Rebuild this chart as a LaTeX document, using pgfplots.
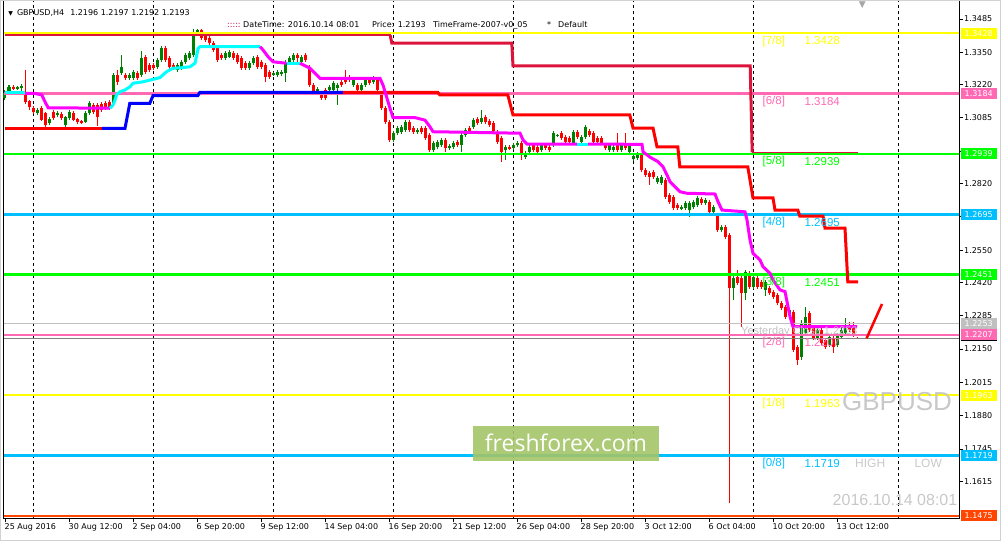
\documentclass[border=0pt]{standalone}
\usepackage{pgfplots}
\pgfplotsset{compat=1.18}
\usepackage{pgfplotstable}
\usepackage{fontspec}
\setmainfont{DejaVu Sans}
\newfontfamily\arial{Liberation Sans}
\newfontfamily\osans{Open Sans}

\definecolor{cgreen}{RGB}{0,128,0}
\definecolor{cred}{RGB}{255,0,0}
\definecolor{mmyellow}{RGB}{255,255,0}
\definecolor{mmpink}{RGB}{255,105,180}
\definecolor{mmlime}{RGB}{0,255,0}
\definecolor{mmblue}{RGB}{0,191,255}
\definecolor{mmorange}{RGB}{255,69,0}
\definecolor{crimsonc}{RGB}{220,20,60}
\definecolor{magentac}{RGB}{255,0,255}
\definecolor{aquac}{RGB}{0,255,255}
\definecolor{bluec}{RGB}{0,0,255}
\definecolor{silverc}{RGB}{192,192,192}
\definecolor{txtgray}{RGB}{200,200,200}
\definecolor{wm}{RGB}{164,196,104}

% H4 bars, i = bar number, o h l c
\pgfplotstableread{
i o h l c
0 1.3165 1.3198 1.3157 1.3186
1 1.3190 1.3218 1.3182 1.3210
3 1.3202 1.3214 1.3198 1.3210
4 1.3206 1.3222 1.3190 1.3214
8 1.3105 1.3125 1.3097 1.3117
11 1.3064 1.3089 1.3056 1.3080
13 1.3097 1.3113 1.3089 1.3105
15 1.3056 1.3093 1.3048 1.3089
16 1.3084 1.3117 1.3076 1.3109
20 1.3068 1.3113 1.3064 1.3105
21 1.3105 1.3153 1.3097 1.3145
27 1.3145 1.3267 1.3137 1.3258
29 1.3267 1.3339 1.3258 1.3291
31 1.3246 1.3267 1.3238 1.3258
32 1.3246 1.3279 1.3238 1.3271
34 1.3258 1.3356 1.3250 1.3327
38 1.3291 1.3327 1.3283 1.3319
39 1.3319 1.3376 1.3311 1.3368
43 1.3279 1.3307 1.3271 1.3299
44 1.3287 1.3319 1.3279 1.3311
45 1.3311 1.3347 1.3303 1.3339
46 1.3327 1.3356 1.3319 1.3347
47 1.3339 1.3445 1.3331 1.3432
48 1.3432 1.3445 1.3424 1.3441
55 1.3327 1.3356 1.3319 1.3347
56 1.3331 1.3360 1.3327 1.3352
61 1.3287 1.3315 1.3279 1.3307
62 1.3307 1.3335 1.3299 1.3327
67 1.3258 1.3271 1.3254 1.3267
68 1.3258 1.3279 1.3250 1.3271
69 1.3262 1.3279 1.3254 1.3271
70 1.3267 1.3319 1.3230 1.3307
71 1.3307 1.3335 1.3299 1.3327
72 1.3319 1.3347 1.3311 1.3339
74 1.3311 1.3339 1.3303 1.3331
78 1.3190 1.3210 1.3178 1.3202
81 1.3198 1.3218 1.3190 1.3210
82 1.3198 1.3234 1.3190 1.3226
83 1.3206 1.3226 1.3137 1.3218
87 1.3218 1.3246 1.3210 1.3238
89 1.3198 1.3226 1.3190 1.3218
90 1.3218 1.3246 1.3210 1.3238
92 1.3230 1.3254 1.3222 1.3246
97 1.2995 1.3032 1.2987 1.3024
98 1.3024 1.3052 1.3016 1.3044
99 1.3028 1.3056 1.3020 1.3048
100 1.3036 1.3076 1.3028 1.3068
103 1.3028 1.3044 1.3020 1.3036
107 1.2955 1.2991 1.2947 1.2983
108 1.2967 1.2995 1.2959 1.2987
109 1.2975 1.3004 1.2967 1.2995
111 1.2963 1.2979 1.2955 1.2971
112 1.2967 1.2991 1.2959 1.2983
114 1.2975 1.3024 1.2947 1.3016
115 1.3016 1.3044 1.3008 1.3036
117 1.3048 1.3084 1.3040 1.3076
119 1.3068 1.3117 1.3060 1.3084
125 1.2955 1.2975 1.2915 1.2967
127 1.2963 1.2983 1.2955 1.2975
128 1.2975 1.2991 1.2967 1.2983
130 1.2927 1.2951 1.2919 1.2943
131 1.2947 1.2975 1.2939 1.2967
134 1.2955 1.2983 1.2947 1.2975
137 1.2975 1.3032 1.2967 1.3024
138 1.3012 1.3020 1.3008 1.3016
142 1.2983 1.3036 1.2975 1.3028
144 1.2987 1.3016 1.2979 1.3008
145 1.3008 1.3056 1.2999 1.3048
151 1.2955 1.2983 1.2947 1.2975
152 1.2955 1.2975 1.2947 1.2967
154 1.2955 1.2983 1.2947 1.2975
156 1.2947 1.2983 1.2939 1.2975
157 1.2919 1.2939 1.2911 1.2931
158 1.2923 1.2947 1.2915 1.2939
163 1.2826 1.2850 1.2817 1.2842
164 1.2821 1.2854 1.2813 1.2846
169 1.2720 1.2732 1.2712 1.2724
170 1.2720 1.2749 1.2712 1.2741
171 1.2712 1.2749 1.2684 1.2741
172 1.2724 1.2753 1.2716 1.2745
173 1.2732 1.2769 1.2724 1.2761
175 1.2741 1.2761 1.2732 1.2753
177 1.2704 1.2732 1.2696 1.2724
179 1.2631 1.2652 1.2623 1.2643
182 1.2397 1.2457 1.2348 1.2437
185 1.2376 1.2470 1.2348 1.2461
187 1.2401 1.2449 1.2393 1.2441
190 1.2389 1.2429 1.2364 1.2421
196 1.2287 1.2316 1.2279 1.2308
199 1.2117 1.2267 1.2105 1.2255
200 1.2215 1.2320 1.2207 1.2279
203 1.2194 1.2235 1.2186 1.2227
206 1.2166 1.2207 1.2158 1.2198
208 1.2166 1.2215 1.2158 1.2207
209 1.2198 1.2235 1.2190 1.2227
210 1.2215 1.2275 1.2207 1.2235
}\upbars

\pgfplotstableread{
i o h l c
2 1.3210 1.3218 1.3198 1.3202
5 1.3186 1.3279 1.3141 1.3149
6 1.3153 1.3157 1.3117 1.3129
7 1.3125 1.3133 1.3101 1.3109
9 1.3125 1.3133 1.3072 1.3076
10 1.3105 1.3109 1.3048 1.3056
12 1.3109 1.3117 1.3076 1.3084
14 1.3101 1.3109 1.3076 1.3084
17 1.3105 1.3113 1.3072 1.3076
18 1.3080 1.3084 1.3060 1.3068
19 1.3072 1.3076 1.3060 1.3064
22 1.3137 1.3145 1.3101 1.3109
23 1.3137 1.3145 1.3052 1.3089
24 1.3141 1.3149 1.3109 1.3117
25 1.3145 1.3153 1.3117 1.3125
26 1.3149 1.3157 1.3117 1.3125
28 1.3258 1.3279 1.3218 1.3230
30 1.3258 1.3267 1.3238 1.3246
33 1.3267 1.3275 1.3238 1.3246
35 1.3331 1.3339 1.3262 1.3271
36 1.3299 1.3307 1.3271 1.3279
37 1.3299 1.3307 1.3279 1.3287
40 1.3368 1.3376 1.3311 1.3319
41 1.3327 1.3335 1.3283 1.3291
42 1.3299 1.3307 1.3279 1.3287
49 1.3441 1.3445 1.3400 1.3408
50 1.3420 1.3428 1.3392 1.3400
51 1.3408 1.3416 1.3380 1.3388
52 1.3388 1.3396 1.3352 1.3360
53 1.3368 1.3376 1.3311 1.3319
54 1.3339 1.3347 1.3319 1.3327
57 1.3347 1.3356 1.3319 1.3327
58 1.3339 1.3347 1.3303 1.3311
59 1.3327 1.3335 1.3279 1.3287
60 1.3307 1.3315 1.3279 1.3287
63 1.3331 1.3339 1.3283 1.3291
64 1.3311 1.3319 1.3283 1.3291
65 1.3299 1.3307 1.3230 1.3250
66 1.3271 1.3279 1.3242 1.3250
73 1.3339 1.3347 1.3311 1.3327
75 1.3339 1.3347 1.3311 1.3319
76 1.3291 1.3299 1.3210 1.3218
77 1.3218 1.3226 1.3182 1.3190
79 1.3186 1.3194 1.3157 1.3165
80 1.3198 1.3206 1.3157 1.3165
84 1.3230 1.3246 1.3210 1.3218
85 1.3250 1.3279 1.3222 1.3230
86 1.3250 1.3258 1.3230 1.3238
88 1.3218 1.3226 1.3190 1.3198
91 1.3238 1.3246 1.3218 1.3226
93 1.3238 1.3246 1.3190 1.3198
94 1.3186 1.3194 1.3117 1.3125
95 1.3125 1.3133 1.3060 1.3068
96 1.3068 1.3076 1.2987 1.2995
101 1.3068 1.3076 1.3028 1.3036
102 1.3044 1.3052 1.3020 1.3028
104 1.3044 1.3052 1.3020 1.3028
105 1.3044 1.3052 1.2995 1.3004
106 1.3016 1.3024 1.2947 1.2955
110 1.2995 1.3004 1.2947 1.2963
113 1.2987 1.2995 1.2967 1.2975
116 1.3044 1.3052 1.3020 1.3028
118 1.3080 1.3089 1.3056 1.3064
120 1.3089 1.3097 1.3060 1.3068
121 1.3072 1.3080 1.3048 1.3056
122 1.3064 1.3072 1.3024 1.3032
123 1.3028 1.3036 1.2979 1.2987
124 1.3004 1.3012 1.2906 1.2947
126 1.2967 1.2975 1.2955 1.2963
129 1.2983 1.2991 1.2915 1.2935
132 1.2975 1.2983 1.2947 1.2955
133 1.2967 1.2975 1.2939 1.2947
135 1.2975 1.2983 1.2955 1.2963
136 1.2967 1.2975 1.2947 1.2955
139 1.3024 1.3032 1.2995 1.3004
140 1.3008 1.3016 1.2979 1.2987
141 1.3004 1.3012 1.2979 1.2987
143 1.3028 1.3036 1.2999 1.3008
146 1.3032 1.3040 1.3008 1.3016
147 1.3024 1.3032 1.2979 1.2987
148 1.3004 1.3012 1.2979 1.2987
149 1.3004 1.3012 1.2975 1.2983
150 1.2975 1.2983 1.2955 1.2963
153 1.2975 1.3024 1.2947 1.2955
155 1.2983 1.3024 1.2955 1.2963
159 1.2935 1.2943 1.2866 1.2874
160 1.2874 1.2882 1.2846 1.2854
161 1.2862 1.2870 1.2813 1.2846
162 1.2866 1.2874 1.2838 1.2846
165 1.2834 1.2842 1.2757 1.2765
166 1.2773 1.2781 1.2737 1.2745
167 1.2765 1.2773 1.2712 1.2720
168 1.2732 1.2741 1.2712 1.2720
174 1.2757 1.2765 1.2732 1.2741
176 1.2745 1.2753 1.2696 1.2704
178 1.2692 1.2700 1.2623 1.2631
180 1.2643 1.2652 1.2595 1.2603
181 1.2611 1.2619 1.1527 1.2397
183 1.2441 1.2470 1.2409 1.2417
184 1.2437 1.2445 1.2239 1.2376
186 1.2457 1.2465 1.2393 1.2401
188 1.2437 1.2445 1.2393 1.2401
189 1.2421 1.2429 1.2393 1.2401
191 1.2397 1.2405 1.2368 1.2376
192 1.2380 1.2389 1.2352 1.2360
193 1.2368 1.2376 1.2328 1.2336
194 1.2336 1.2344 1.2308 1.2316
195 1.2320 1.2328 1.2271 1.2279
197 1.2300 1.2308 1.2138 1.2146
198 1.2158 1.2166 1.2085 1.2105
201 1.2295 1.2304 1.2219 1.2227
202 1.2235 1.2243 1.2186 1.2194
204 1.2227 1.2235 1.2166 1.2174
205 1.2186 1.2194 1.2150 1.2158
207 1.2194 1.2202 1.2134 1.2158
211 1.2239 1.2259 1.2219 1.2227
212 1.2239 1.2259 1.2198 1.2207
213 1.2196 1.2197 1.2192 1.2193
}\downbars

\tikzset{
  lvl/.style={fill=#1, text=white, font=\fontsize{8}{9}\selectfont, minimum width=36pt,
    minimum height=11pt, inner sep=0pt, anchor=west, xshift=1.5pt},
  mm/.style={text=#1, font=\arial\fontsize{11.5}{12}\selectfont, inner sep=0pt},
  hdr/.style={anchor=west, inner sep=0pt, font=\fontsize{8}{9}\selectfont}
}

\begin{document}
\begin{tikzpicture}
\begin{axis}[
    name=ax,
    scale only axis,
    width=955pt, height=517pt,
    xmin=-0.25, xmax=238.5,
    ymin=1.1466, ymax=1.3558,
    clip=false,
    axis line style={black, line width=1pt},
    xtick={0,16,32,48,64,80,96,112,128,144,160,176,192,208},
    xticklabels={25 Aug 2016, 30 Aug 12:00, 2 Sep 04:00, 6 Sep 20:00, 9 Sep 12:00,
      14 Sep 04:00, 16 Sep 20:00, 21 Sep 12:00, 26 Sep 04:00, 28 Sep 20:00,
      3 Oct 12:00, 6 Oct 04:00, 10 Oct 20:00, 13 Oct 12:00},
    ytick={1.3485,1.3350,1.3220,1.3085,1.2950,1.2820,1.2685,1.2550,1.2420,1.2285,1.2150,1.2015,1.1880,1.1745,1.1615},
    yticklabels={1.3485,1.3350,1.3220,1.3085,,1.2820,,1.2550,1.2420,1.2285,1.2150,1.2015,1.1880,1.1745,1.1615},
    xtick pos=bottom, ytick pos=right, yticklabel pos=right,
    tick align=outside, major tick length=4pt,
    tick style={black, line width=0.8pt},
    ticklabel style={font=\fontsize{8}{9}\selectfont, text=black},
    xticklabel style={anchor=north west, xshift=-1.5pt, inner sep=1pt},
    yticklabel style={anchor=west, inner sep=1pt},
    extra x ticks={7,37,67,97,127,157,187,223.25},
    extra x tick labels={},
    extra x tick style={grid=major, tick style={draw=none}},
    major grid style={black, line width=0.8pt, dash pattern=on 3pt off 3pt},
]

% candles: wicks, then bodies
\addplot[draw=none, mark=none, forget plot,
  error bars/.cd, y dir=both, y explicit, error mark=none,
  error bar style={draw=cgreen, line width=1pt}]
  table[x=i, y expr={(\thisrow{h}+\thisrow{l})/2}, y error expr={(\thisrow{h}-\thisrow{l})/2}] {\upbars};
\addplot[draw=none, mark=none, forget plot,
  error bars/.cd, y dir=both, y explicit, error mark=none,
  error bar style={draw=cgreen, line width=3pt}]
  table[x=i, y expr={(\thisrow{o}+\thisrow{c})/2}, y error expr={(\thisrow{c}-\thisrow{o})/2}] {\upbars};
\addplot[draw=none, mark=none, forget plot,
  error bars/.cd, y dir=both, y explicit, error mark=none,
  error bar style={draw=cred, line width=1pt}]
  table[x=i, y expr={(\thisrow{h}+\thisrow{l})/2}, y error expr={(\thisrow{h}-\thisrow{l})/2}] {\downbars};
\addplot[draw=none, mark=none, forget plot,
  error bars/.cd, y dir=both, y explicit, error mark=none,
  error bar style={draw=cred, line width=3pt}]
  table[x=i, y expr={(\thisrow{o}+\thisrow{c})/2}, y error expr={(\thisrow{o}-\thisrow{c})/2}] {\downbars};

% murrey math levels
\addplot[mmyellow, line width=2.5pt] coordinates {(-0.25,1.3428) (238.5,1.3428)};
\addplot[mmpink, line width=2.5pt] coordinates {(-0.25,1.3184) (238.5,1.3184)};
\addplot[mmlime, line width=2.5pt] coordinates {(-0.25,1.2939) (238.5,1.2939)};
\addplot[mmblue, line width=2.5pt] coordinates {(-0.25,1.2695) (238.5,1.2695)};
\addplot[mmlime, line width=2.5pt] coordinates {(-0.25,1.2451) (238.5,1.2451)};
\addplot[silverc, line width=1.2pt] coordinates {(-0.25,1.2253) (238.5,1.2253)};
\addplot[mmpink, line width=2.5pt] coordinates {(-0.25,1.2207) (238.5,1.2207)};
\addplot[gray, line width=1.2pt] coordinates {(-0.25,1.2193) (238.5,1.2193)};
\addplot[mmyellow, line width=2.5pt] coordinates {(-0.25,1.1963) (238.5,1.1963)};
\addplot[mmblue, line width=2.5pt] coordinates {(-0.25,1.1719) (238.5,1.1719)};
\addplot[mmorange, line width=2.5pt] coordinates {(-0.25,1.1475) (238.5,1.1475)};

% upper trailing line
\addplot[crimsonc, line width=1.8pt] coordinates {(0,1.3419) (96.5,1.3419)};
\addplot[crimsonc, line width=3pt] coordinates {(96.3,1.3419) (96.7,1.3388) (126.7,1.3388) (127,1.3295) (186.3,1.3295) (186.8,1.2946)};
\addplot[crimsonc, line width=1.3pt] coordinates {(186.8,1.2946) (213.3,1.2946)};

% lower trailing line
\addplot[cred, line width=3pt] coordinates {(0,1.3043) (24.2,1.3043)};
\addplot[bluec, line width=3pt] coordinates {(24.2,1.3043) (30,1.3043) (31.2,1.3144) (36.2,1.3144) (37,1.3175) (48.2,1.3175) (48.7,1.3188) (84.5,1.3188)};
\addplot[cred, line width=3pt] coordinates {(84.5,1.3188) (108.2,1.3188) (108.7,1.3178) (125.7,1.3178) (127,1.3097) (156.2,1.3097) (157,1.3044) (162,1.3044) (163,1.2968) (168.2,1.2968) (168.7,1.2887) (185.7,1.2887) (187,1.2761) (192,1.2761) (192.5,1.2712) (198.2,1.2712) (198.7,1.2688) (204.5,1.2688) (205,1.2639) (210,1.2639) (210.7,1.2421) (213.3,1.2421)};

% fast trailing line
\addplot[aquac, line width=3pt] coordinates {(0,1.3187) (5,1.3187)};
\addplot[magentac, line width=3pt] coordinates {(5,1.3184) (7.5,1.3184) (9.2,1.3178) (10,1.3150) (10.8,1.3126) (26.25,1.3124)};
\addplot[aquac, line width=3pt] coordinates {(26.25,1.3124) (27,1.3137) (27.5,1.3157) (27.9,1.3178) (28.75,1.3191) (30,1.3198) (31.25,1.3211) (32,1.3225) (34.5,1.3231) (37,1.3241) (38.75,1.3248) (39.5,1.3259) (40.4,1.3272) (42,1.3286) (44.2,1.3288) (46.25,1.3292) (47.5,1.3306) (48.3,1.3367) (48.75,1.3373) (63.75,1.3373)};
\addplot[magentac, line width=3pt] coordinates {(63.75,1.3373) (64.5,1.3360) (65.75,1.3333) (67,1.3312) (70.4,1.3306)};
\addplot[aquac, line width=3pt] coordinates {(70.4,1.3306) (73.75,1.3306)};
\addplot[magentac, line width=3pt] coordinates {(73.75,1.3306) (76.25,1.3286) (77.9,1.3259) (78.75,1.3245) (93.75,1.3245) (94.5,1.3218) (95.5,1.3164) (96.25,1.3124) (97,1.3086) (102.5,1.3086) (105,1.3076) (106.25,1.3049) (107,1.3029) (128.75,1.3023) (129.5,1.2996) (130.5,1.2979) (143,1.2979)};
\addplot[aquac, line width=3pt] coordinates {(143,1.2979) (145.75,1.2979)};
\addplot[magentac, line width=3pt] coordinates {(145.75,1.2979) (159.25,1.2978) (159.5,1.2948) (161.25,1.2926) (163.25,1.2908) (164.5,1.2887) (165.5,1.2854) (166.25,1.2827) (168.75,1.2786) (170.5,1.2780) (177.5,1.2777) (178.25,1.2746) (179.25,1.2712) (185,1.2705) (185.5,1.2672) (186.25,1.2591) (187,1.2537) (188.75,1.2510) (189.5,1.2483) (191.25,1.2456) (192,1.2429) (193.75,1.2389) (195,1.2382) (196.25,1.2281) (197,1.2240) (213,1.2240)};

% projection
\addplot[cred, line width=2.5pt] coordinates {(215.4,1.2193) (219.25,1.2332)};

% level texts
\node[mm=mmyellow] at (axis cs:192.2,1.3396) {[7/8]};
\node[mm=mmyellow] at (axis cs:204.3,1.3396) {1.3428};
\node[mm=mmpink] at (axis cs:192.2,1.3152) {[6/8]};
\node[mm=mmpink] at (axis cs:204.3,1.3152) {1.3184};
\node[mm=mmlime] at (axis cs:192.2,1.2907) {[5/8]};
\node[mm=mmlime] at (axis cs:204.3,1.2907) {1.2939};
\node[mm=mmblue] at (axis cs:192.2,1.2663) {[4/8]};
\node[mm=mmblue] at (axis cs:204.3,1.2663) {1.2695};
\node[mm=mmlime] at (axis cs:192.2,1.2419) {[3/8]};
\node[mm=mmlime] at (axis cs:204.3,1.2419) {1.2451};
\node[mm=mmpink] at (axis cs:192.2,1.2175) {[2/8]};
\node[mm=mmpink] at (axis cs:204.3,1.2175) {1.2207};
\node[mm=mmyellow] at (axis cs:192.2,1.1931) {[1/8]};
\node[mm=mmyellow] at (axis cs:204.3,1.1931) {1.1963};
\node[mm=mmblue] at (axis cs:192.2,1.1687) {[0/8]};
\node[mm=mmblue] at (axis cs:204.3,1.1687) {1.1719};
\node[text=silverc, font=\arial\fontsize{11}{12}\selectfont, inner sep=0pt] at (axis cs:198.6,1.2222) {Yesterday Close 1.2253};
\node[text=txtgray, font=\arial\fontsize{26}{28}\selectfont, inner sep=0pt] at (axis cs:223,1.1939) {GBPUSD};
\node[text=txtgray, font=\arial\fontsize{12}{13}\selectfont, inner sep=0pt] at (axis cs:216.3,1.1689) {HIGH};
\node[text=txtgray, font=\arial\fontsize{12}{13}\selectfont, inner sep=0pt] at (axis cs:230.8,1.1689) {LOW};
\node[text=txtgray, font=\arial\fontsize{16}{17}\selectfont, inner sep=0pt] at (axis cs:222.5,1.1539) {2016.10.14 08:01};

% watermark
\fill[wm, opacity=0.9] (axis cs:117,1.1838) rectangle (axis cs:163.5,1.1697);
\node[text=white, font=\osans\fontsize{23}{24}\selectfont, inner sep=0pt] at (axis cs:140.25,1.1770) {freshforex.com};

% header
\node[hdr] at (axis cs:0.8,1.3509) {\fontsize{6}{7}\selectfont▼\hspace{4pt}\fontsize{8}{9}\selectfont GBPUSD,H4\hspace{6pt}1.2196 1.2197 1.2192 1.2193};
\node[hdr, text=purple] at (axis cs:55.5,1.3461) {:::::};
\node[hdr] at (axis cs:59.5,1.3461) {DateTime: 2016.10.14 08:01};
\node[hdr] at (axis cs:91.75,1.3461) {Price: 1.2193};
\node[hdr] at (axis cs:107,1.3461) {TimeFrame-2007-v0\_05};
\node[hdr] at (axis cs:135.5,1.3461) {*};
\node[hdr] at (axis cs:138.25,1.3461) {Default};
\node[text=gray!70, font=\fontsize{9}{9}\selectfont, inner sep=0pt] at (axis cs:214.3,1.3540) {▼};

% price labels on the right scale
\fill[black] ([xshift=1.5pt]axis cs:238.5,1.2181) rectangle ([xshift=37.5pt]axis cs:238.5,1.2203);
\node[lvl=silverc] at (axis cs:238.5,1.2253) {1.2253};
\node[lvl=mmyellow] at (axis cs:238.5,1.3428) {1.3428};
\node[lvl=mmpink] at (axis cs:238.5,1.3184) {1.3184};
\node[lvl=mmlime] at (axis cs:238.5,1.2939) {1.2939};
\node[lvl=mmblue] at (axis cs:238.5,1.2695) {1.2695};
\node[lvl=mmlime] at (axis cs:238.5,1.2451) {1.2451};
\node[lvl=mmpink] at (axis cs:238.5,1.2207) {1.2207};
\node[lvl=mmyellow] at (axis cs:238.5,1.1963) {1.1963};
\node[lvl=mmblue] at (axis cs:238.5,1.1719) {1.1719};
\node[lvl=mmorange] at (axis cs:238.5,1.1475) {1.1475};
\end{axis}
\pgfresetboundingbox
\path[use as bounding box] ([shift={(-4pt,-23pt)}]ax.south west) rectangle ([shift={(997pt,518pt)}]ax.south west);
\draw[gray!35, line width=1pt] ([shift={(-3.5pt,-22.5pt)}]ax.south west) rectangle ([shift={(996.5pt,517.5pt)}]ax.south west);
\end{tikzpicture}
\end{document}
